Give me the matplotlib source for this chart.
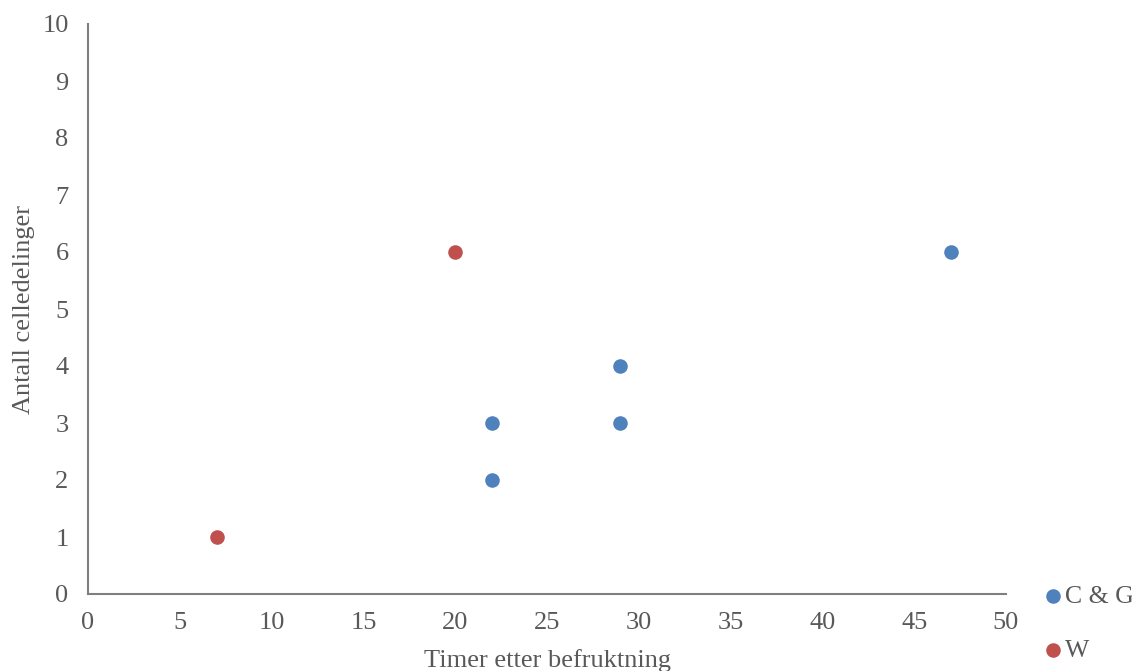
import matplotlib.pyplot as plt

cg_x = [22, 22, 29, 29, 47]
cg_y = [3, 2, 4, 3, 6]
w_x = [7, 20]
w_y = [1, 6]

plt.rcParams['font.family'] = ['Liberation Serif', 'DejaVu Serif']
grey = '#595959'

fig = plt.figure(figsize=(11.32, 6.71), dpi=100)
ax = fig.add_axes([88 / 1132, 1 - 594 / 671, (1006 - 88) / 1132, (594 - 24) / 671])

ax.scatter(cg_x, cg_y, s=110, color='#4F81BD', label='C & G', zorder=3, linewidths=0)
ax.scatter(w_x, w_y, s=110, color='#C0504D', label='W', zorder=3, linewidths=0)

ax.set_xlim(0, 50)
ax.set_ylim(0, 10)
ax.set_xticks(range(0, 51, 5))
ax.set_yticks(range(0, 11))
ax.tick_params(length=0, labelsize=19, labelcolor=grey)
ax.tick_params(axis='x', pad=13)
ax.tick_params(axis='y', pad=14)
for s in ['top', 'right']:
    ax.spines[s].set_visible(False)
for s in ['left', 'bottom']:
    ax.spines[s].set_color('#7f7f7f')
    ax.spines[s].set_linewidth(1.5)

ax.set_xlabel('Timer etter befruktning', fontsize=19, color=grey, labelpad=11)
ax.set_ylabel('Antall celledelinger', fontsize=19, color=grey, labelpad=5)

leg = ax.legend(loc='upper left', bbox_to_anchor=(1.0414, 0.016), frameon=False,
                fontsize=18.5, handlelength=0.7, handletextpad=0.1, labelspacing=1.22,
                borderaxespad=0, borderpad=0)
for t in leg.get_texts():
    t.set_color(grey)

fig.savefig('out.png', dpi=100)
